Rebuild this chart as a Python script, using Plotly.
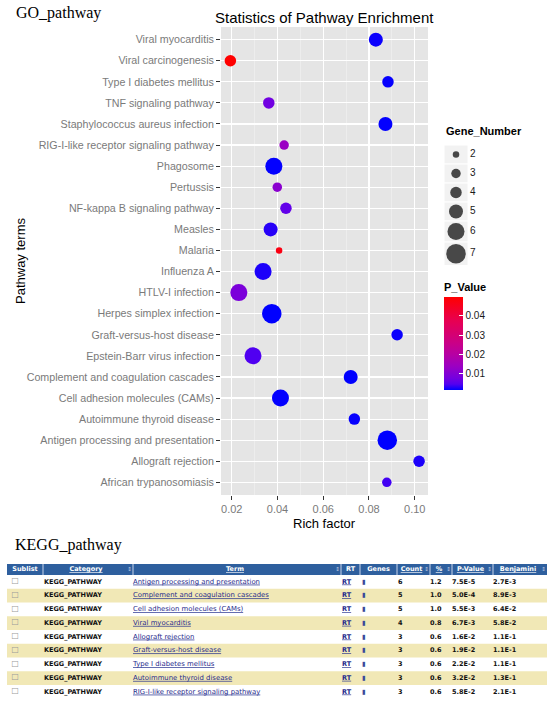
import plotly.graph_objects as go

# ---------------- data: bubble chart (GO_pathway) ----------------
go_terms = [
    "Viral myocarditis", "Viral carcinogenesis", "Type I diabetes mellitus",
    "TNF signaling pathway", "Staphylococcus aureus infection",
    "RIG-I-like receptor signaling pathway", "Phagosome", "Pertussis",
    "NF-kappa B signaling pathway", "Measles", "Malaria", "Influenza A",
    "HTLV-I infection", "Herpes simplex infection", "Graft-versus-host disease",
    "Epstein-Barr virus infection", "Complement and coagulation cascades",
    "Cell adhesion molecules (CAMs)", "Autoimmune thyroid disease",
    "Antigen processing and presentation", "Allograft rejection",
    "African trypanosomiasis",
]
rich_factor = [0.0830, 0.0194, 0.0883, 0.0362, 0.0872, 0.0429, 0.0384, 0.0399,
               0.0437, 0.0370, 0.0407, 0.0337, 0.0231, 0.0375, 0.0923, 0.0293,
               0.0720, 0.0413, 0.0736, 0.0880, 0.1019, 0.0878]
gene_number = [5, 4, 4, 4, 5, 3, 6, 3, 4, 5, 2, 6, 6, 7, 4, 6, 5, 6, 4, 7, 4, 3]
p_value = [0.0020, 0.0497, 0.0018, 0.0074, 0.0017, 0.0136, 0.0017, 0.0112,
           0.0060, 0.0030, 0.0470, 0.0026, 0.0088, 0.0016, 0.0020, 0.0045,
           0.0016, 0.0017, 0.0018, 0.0016, 0.0026, 0.0040]

x_ticks = [0.02, 0.04, 0.06, 0.08, 0.10]
p_ticks = [0.01, 0.02, 0.03, 0.04]
size_legend_counts = [2, 3, 4, 5, 6, 7]

# ---------------- data: table (KEGG_pathway) ----------------
kegg_category = "KEGG_PATHWAY"
kegg_terms = [
    "Antigen processing and presentation", "Complement and coagulation cascades",
    "Cell adhesion molecules (CAMs)", "Viral myocarditis", "Allograft rejection",
    "Graft-versus-host disease", "Type I diabetes mellitus",
    "Autoimmune thyroid disease", "RIG-I-like receptor signaling pathway",
]
kegg_counts = [6, 5, 5, 4, 3, 3, 3, 3, 3]
kegg_percent = [1.2, 1.0, 1.0, 0.8, 0.6, 0.6, 0.6, 0.6, 0.6]
kegg_pvalue = [7.5e-5, 5.0e-4, 5.5e-3, 6.7e-3, 1.6e-2, 1.9e-2, 2.2e-2, 3.2e-2, 5.8e-2]
kegg_benjamini = [2.7e-3, 8.9e-3, 6.4e-2, 5.8e-2, 1.1e-1, 1.1e-1, 1.1e-1, 1.3e-1, 2.1e-1]
table_headers = ["Sublist", "Category", "Term", "RT", "Genes", "Count", "%",
                 "P-Value", "Benjamini"]

# ---------------- style ----------------
W, H = 550, 701
def px(x): return x / W
def py(y): return 1 - y / H

SANS = "Liberation Sans, Arial, sans-serif"
SERIF = "Liberation Serif, Times New Roman, serif"
TBL = "DejaVu Sans, Verdana, sans-serif"
SIZE_PX = {2: 6.5, 3: 9.5, 4: 11.5, 5: 14, 6: 17, 7: 19.5}
# blue -> red gradient, interpolated in Lab space as ggplot2 does
colorscale = [[0, "#0000FF"], [0.0625, "#5300F0"], [0.125, "#7300E0"],
              [0.25, "#9A00C3"], [0.375, "#B500A5"], [0.5, "#C90088"],
              [0.75, "#E80050"], [1, "#FF0000"]]
p_min, p_max = min(p_value), max(p_value)

fig = go.Figure()

fig.add_trace(go.Scatter(
    x=rich_factor, y=go_terms, mode="markers", xaxis="x", yaxis="y",
    marker=dict(
        size=[SIZE_PX[n] for n in gene_number], color=p_value,
        colorscale=colorscale, cmin=p_min, cmax=p_max, line=dict(width=0),
        opacity=1,
        colorbar=dict(
            x=px(444), xanchor="left", y=py(280), yanchor="top",
            len=110, lenmode="pixels", thickness=19, thicknessmode="pixels",
            outlinewidth=0, xpad=0, ypad=0, ticks="inside", ticklen=4,
            tickcolor="white", tickvals=p_ticks,
            ticktext=[f"{t:.2f}" for t in p_ticks],
            tickfont=dict(family=SANS, size=10, color="#1a1a1a"),
            title=dict(text="<b>P_Value</b>", side="top",
                       font=dict(family=SANS, size=11, color="#000")),
        ),
    ),
    showlegend=False, hoverinfo="skip",
))

# ---- size legend (Gene_Number) on a pixel-scaled overlay axis ----
key_x0, key_x1 = 444, 468
top = 145
centers, shapes = [], []
for n in size_legend_counts:
    h = max(19, SIZE_PX[n] + 4)
    shapes.append(dict(type="rect", xref="x2", yref="y2", x0=key_x0, x1=key_x1,
                       y0=top, y1=top + h, fillcolor="#F2F2F2",
                       line=dict(color="white", width=1), layer="below"))
    centers.append(top + h / 2)
    top += h
fig.add_trace(go.Scatter(
    x=[(key_x0 + key_x1) / 2] * len(size_legend_counts), y=centers,
    mode="markers", xaxis="x2", yaxis="y2",
    marker=dict(size=[SIZE_PX[n] for n in size_legend_counts], color="black",
                line=dict(width=0)),
    showlegend=False, hoverinfo="skip"))
fig.add_trace(go.Scatter(
    x=[key_x1 + 2] * len(size_legend_counts), y=centers, mode="text",
    text=[str(n) for n in size_legend_counts], textposition="middle right",
    textfont=dict(family=SANS, size=10, color="#1a1a1a"),
    xaxis="x2", yaxis="y2", showlegend=False, hoverinfo="skip"))

# panel background
shapes.append(dict(type="rect", xref="x domain", yref="y domain", x0=0, x1=1,
                   y0=0, y1=1, fillcolor="#E5E5E5", line=dict(width=0),
                   layer="below"))

# ---------------- table (drawn on the pixel overlay axis) ----------------
def sci(v):
    m, e = f"{v:.1E}".split("E")
    return f"{m}E{int(e)}"

n_rows = len(kegg_terms)
col_widths = [36, 90, 208, 19, 37, 33, 22, 41, 54]
tbl_left, hdr_top, hdr_h, row_h = 7, 564, 11, 13.75
edges = [tbl_left]
for w in col_widths:
    edges.append(edges[-1] + w)
tbl_right = edges[-1]
link = "#1F2B8C"

# header background + separators
shapes.append(dict(type="rect", xref="x2", yref="y2", x0=tbl_left, x1=tbl_right,
                   y0=hdr_top, y1=hdr_top + hdr_h, fillcolor="#2E5F9E",
                   line=dict(width=0), layer="below"))
for e in edges[1:-1]:
    shapes.append(dict(type="line", xref="x2", yref="y2", x0=e, x1=e,
                       y0=hdr_top, y1=hdr_top + hdr_h,
                       line=dict(color="#C9D5EA", width=1), layer="below"))
# striped rows
row_centers = []
for i in range(n_rows):
    y0 = hdr_top + hdr_h + i * row_h
    row_centers.append(y0 + row_h / 2)
    if i % 2 == 1:
        shapes.append(dict(type="rect", xref="x2", yref="y2", x0=tbl_left,
                           x1=tbl_right, y0=y0, y1=y0 + row_h,
                           fillcolor="#F1E8B6", line=dict(width=0),
                           layer="below"))

linked = {"Category", "Term", "Count", "%", "P-Value", "Benjamini"}
hdr_text = [f"<b><u>{h}</u></b>" if h in linked else f"<b>{h}</b>"
            for h in table_headers]
fig.add_trace(go.Scatter(
    x=[(edges[i] + edges[i + 1]) / 2 - (2 if table_headers[i] in linked else 0)
       for i in range(len(table_headers))],
    y=[hdr_top + hdr_h / 2] * len(table_headers), mode="text", text=hdr_text,
    textposition="middle center",
    textfont=dict(family=TBL, size=6.5, color="white"),
    xaxis="x2", yaxis="y2", showlegend=False, hoverinfo="skip"))
sort_cols = [i for i, h in enumerate(table_headers) if h in linked]
fig.add_trace(go.Scatter(
    x=[edges[i + 1] - 3.5 for i in sort_cols],
    y=[hdr_top + hdr_h / 2] * len(sort_cols), mode="text",
    text=["⇕"] * len(sort_cols), textposition="middle center",
    textfont=dict(family=TBL, size=5.5, color="#C8D3E8"),
    xaxis="x2", yaxis="y2", showlegend=False, hoverinfo="skip"))

columns = [
    (["☐"] * n_rows, 4, 8.5, "#9A9A9A"),
    ([f"<b>{kegg_category}</b>"] * n_rows, 1, 6.5, "#111111"),
    ([f"<u>{t}</u>" for t in kegg_terms], 0, 6.9, link),
    (["<b><u>RT</u></b>"] * n_rows, 1, 6.5, link),
    (["▮"] * n_rows, 2, 6.5, "#3A4A9A"),
    ([f"<b>{c}</b>" for c in kegg_counts], 1, 6.5, "#111111"),
    ([f"<b>{p:.1f}</b>" for p in kegg_percent], 0, 6.5, "#111111"),
    ([f"<b>{sci(p)}</b>" for p in kegg_pvalue], 0, 6.5, "#111111"),
    ([f"<b>{sci(b)}</b>" for b in kegg_benjamini], 0, 6.5, "#111111"),
]
for i, (vals, pad, size, color) in enumerate(columns):
    fig.add_trace(go.Scatter(
        x=[edges[i] + pad] * n_rows, y=row_centers, mode="text", text=vals,
        textposition="middle right",
        textfont=dict(family=TBL, size=size, color=color),
        xaxis="x2", yaxis="y2", showlegend=False, hoverinfo="skip"))

# ---------------- annotations ----------------
ann = [
    dict(text="GO_pathway", x=px(14), y=py(13), xanchor="left", yanchor="middle",
         font=dict(family=SERIF, size=16, color="#000")),
    dict(text="KEGG_pathway", x=px(13), y=py(545), xanchor="left", yanchor="middle",
         font=dict(family=SERIF, size=16, color="#000")),
    dict(text="Statistics of Pathway Enrichment", x=px(324.5), y=py(17),
         xanchor="center", yanchor="middle",
         font=dict(family=SANS, size=15, color="#000")),
    dict(text="Rich factor", x=px(324.5), y=py(523), xanchor="center",
         yanchor="middle", font=dict(family=SANS, size=13, color="#000")),
    dict(text="Pathway terms", x=px(20), y=py(261), xanchor="center",
         yanchor="middle", textangle=-90,
         font=dict(family=SANS, size=13, color="#000")),
    dict(text="<b>Gene_Number</b>", x=px(444), y=py(131), xanchor="left",
         yanchor="middle", font=dict(family=SANS, size=11, color="#000")),
]
for a in ann:
    a["xref"] = "paper"
    a["yref"] = "paper"
    a["showarrow"] = False

fig.update_layout(
    width=W, height=H, autosize=False,
    margin=dict(l=0, r=0, t=0, b=0),
    paper_bgcolor="white", plot_bgcolor="rgba(0,0,0,0)",
    showlegend=False,
    xaxis=dict(domain=[px(221), px(428)], range=[0.0153, 0.1058], anchor="y",
               tickmode="array", tickvals=x_ticks,
               ticktext=[f"{t:.2f}" for t in x_ticks],
               showgrid=True, gridcolor="white", gridwidth=1.2,
               minor=dict(dtick=0.01, tick0=0, showgrid=True,
                          gridcolor="#F2F2F2", gridwidth=0.6),
               ticks="outside", ticklen=4, tickcolor="#333333", tickwidth=1,
               tickfont=dict(family=SANS, size=11, color="#7A7A7A"),
               zeroline=False, showline=False, fixedrange=True),
    yaxis=dict(domain=[py(495), py(27)], type="category",
               categoryorder="array", categoryarray=go_terms[::-1],
               range=[-0.6, len(go_terms) - 0.4], anchor="x",
               showgrid=True, gridcolor="white", gridwidth=1.2,
               ticks="outside", ticklen=4, tickcolor="#333333", tickwidth=1,
               tickfont=dict(family=SANS, size=10.7, color="#7A7A7A"),
               zeroline=False, showline=False, fixedrange=True),
    xaxis2=dict(domain=[0, 1], range=[0, W], anchor="y2", visible=False,
                fixedrange=True),
    yaxis2=dict(domain=[0, 1], range=[H, 0], anchor="x2", visible=False,
                fixedrange=True),
    shapes=shapes,
    annotations=ann,
)

fig.write_html("out.html",
               config={"displayModeBar": False, "staticPlot": True},
               post_script="document.body.style.margin='0px';"
                           "document.body.style.overflow='hidden';")
